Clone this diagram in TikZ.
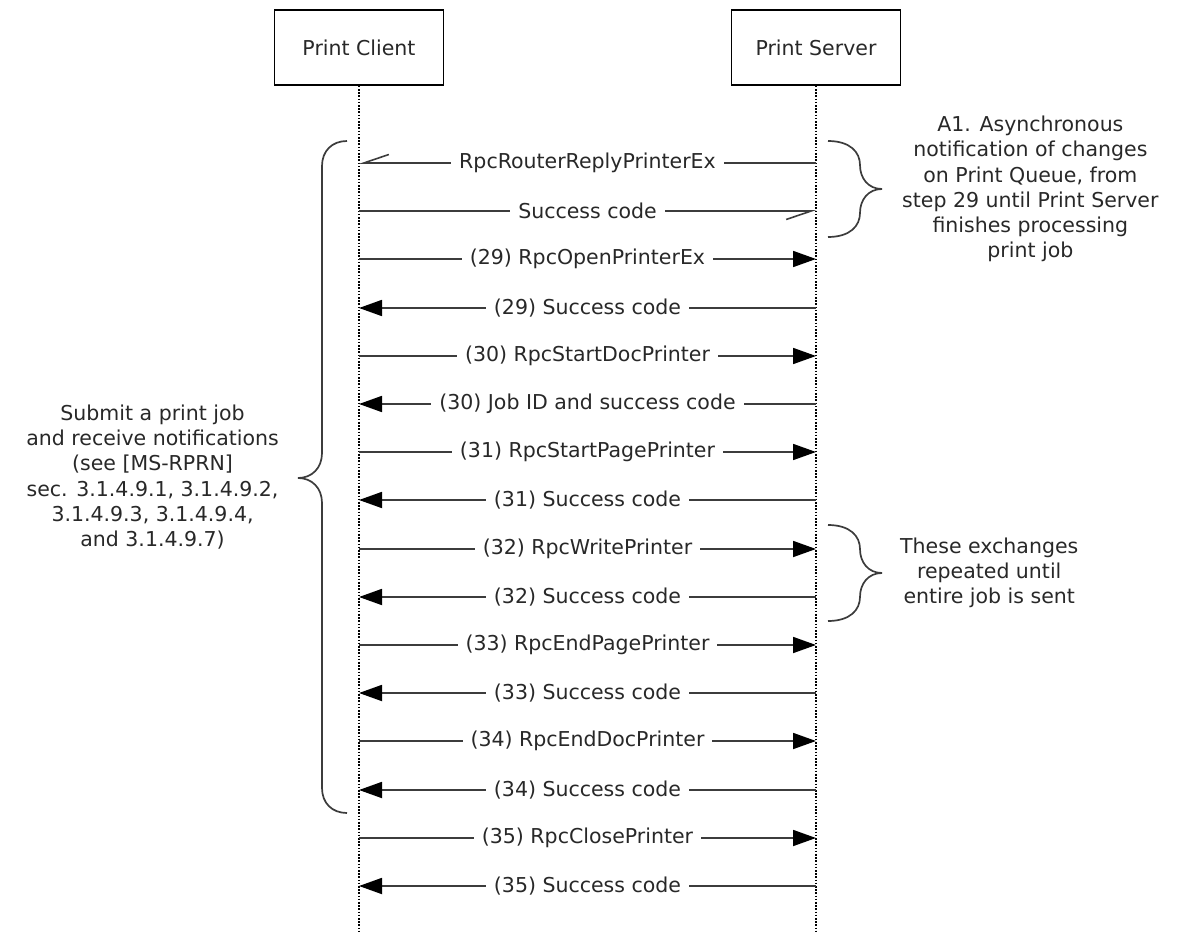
\documentclass[tikz,border=0pt]{standalone}
\usepackage{fontspec}
\setmainfont{DejaVu Sans}
\usetikzlibrary{arrows.meta}
\definecolor{ink}{RGB}{40,40,40}
\definecolor{wire}{RGB}{60,60,60}
\begin{document}
\begin{tikzpicture}[x=1pt,y=-1pt,
  font=\fontsize{20.5}{25.3}\selectfont, text=ink,
  actor/.style={draw=black,line width=1.8pt,minimum width=169pt,minimum height=75pt,inner sep=0pt,fill=white},
  life/.style={draw=black,line width=1.4pt,dash pattern=on 1.6pt off 1.6pt},
  msg/.style={draw=wire,line width=1.8pt,-{Triangle[length=23pt,width=16pt,color=black,fill=black]}},
  async/.style={draw=wire,line width=1.8pt,-{Straight Barb[harpoon,swap,length=25pt,width=17pt,line width=1.6pt]}},
  lbl/.style={fill=white,inner xsep=8pt,inner ysep=2pt,text=ink},
  brace/.style={draw=wire,line width=1.7pt},
  note/.style={align=center,inner sep=0pt,text=ink}]
\useasboundingbox (0,0) rectangle (1181,933);

% participants
\node[actor] (client) at (359,47.5) {Print Client};
\node[actor] (server) at (816,47.5) {Print Server};
\coordinate (clientEnd) at (359,933);
\coordinate (serverEnd) at (816,933);
\draw[life] (client.south) -- (clientEnd);
\draw[life] (server.south) -- (serverEnd);

% message rows on both lifelines, kept on whole units
\foreach \i in {0,...,15}{
  \pgfmathtruncatemacro{\rowy}{163+48.2*\i+0.5}
  \coordinate (c\i) at (359,\rowy);
  \coordinate (s\i) at (816,\rowy);
}

% asynchronous notifications
\draw[async] (s0) -- node[lbl]{RpcRouterReplyPrinterEx} (c0);
\draw[async] (c1) -- node[lbl]{Success code} (s1);

% print job calls
\draw[msg] (c2) -- node[lbl]{(29) RpcOpenPrinterEx} (s2);
\draw[msg] (s3) -- node[lbl]{(29) Success code} (c3);
\draw[msg] (c4) -- node[lbl]{(30) RpcStartDocPrinter} (s4);
\draw[msg] (s5) -- node[lbl]{(30) Job ID and success code} (c5);
\draw[msg] (c6) -- node[lbl]{(31) RpcStartPagePrinter} (s6);
\draw[msg] (s7) -- node[lbl]{(31) Success code} (c7);
\draw[msg] (c8) -- node[lbl]{(32) RpcWritePrinter} (s8);
\draw[msg] (s9) -- node[lbl]{(32) Success code} (c9);
\draw[msg] (c10) -- node[lbl]{(33) RpcEndPagePrinter} (s10);
\draw[msg] (s11) -- node[lbl]{(33) Success code} (c11);
\draw[msg] (c12) -- node[lbl]{(34) RpcEndDocPrinter} (s12);
\draw[msg] (s13) -- node[lbl]{(34) Success code} (c13);
\draw[msg] (c14) -- node[lbl]{(35) RpcClosePrinter} (s14);
\draw[msg] (s15) -- node[lbl]{(35) Success code} (c15);

% left brace around the print job exchange
\draw[brace] (347,141) .. controls (332,141) and (322,151) .. (322,166)
  -- (322,453) .. controls (322,468) and (312,478) .. (298,478)
  .. controls (312,478) and (322,488) .. (322,503)
  -- (322,788) .. controls (322,803) and (332,813) .. (347,813);
\node[note,anchor=east] (jobnote) at (279,477)
  {Submit a print job\\and receive notifications\\(see [MS-RPRN]\\sec. 3.1.4.9.1, 3.1.4.9.2,\\3.1.4.9.3, 3.1.4.9.4,\\and 3.1.4.9.7)};

% right brace: asynchronous notifications
\draw[brace] (828,141) .. controls (850,141) and (860,152) .. (860,165)
  .. controls (860,178) and (868,189) .. (882,189)
  .. controls (868,189) and (860,200) .. (860,213)
  .. controls (860,226) and (850,237) .. (828,237);
\node[note,anchor=west] (asyncnote) at (902,189)
  {A1. Asynchronous\\notification of changes\\on Print Queue, from\\step 29 until Print Server\\finishes processing\\print job};

% right brace: repeated write exchange
\draw[brace] (828,525) .. controls (850,525) and (860,536) .. (860,549)
  .. controls (860,562) and (868,573) .. (882,573)
  .. controls (868,573) and (860,584) .. (860,597)
  .. controls (860,610) and (850,621) .. (828,621);
\node[note,anchor=west] (repeatnote) at (900,573)
  {These exchanges\\repeated until\\entire job is sent};
\end{tikzpicture}
\end{document}
